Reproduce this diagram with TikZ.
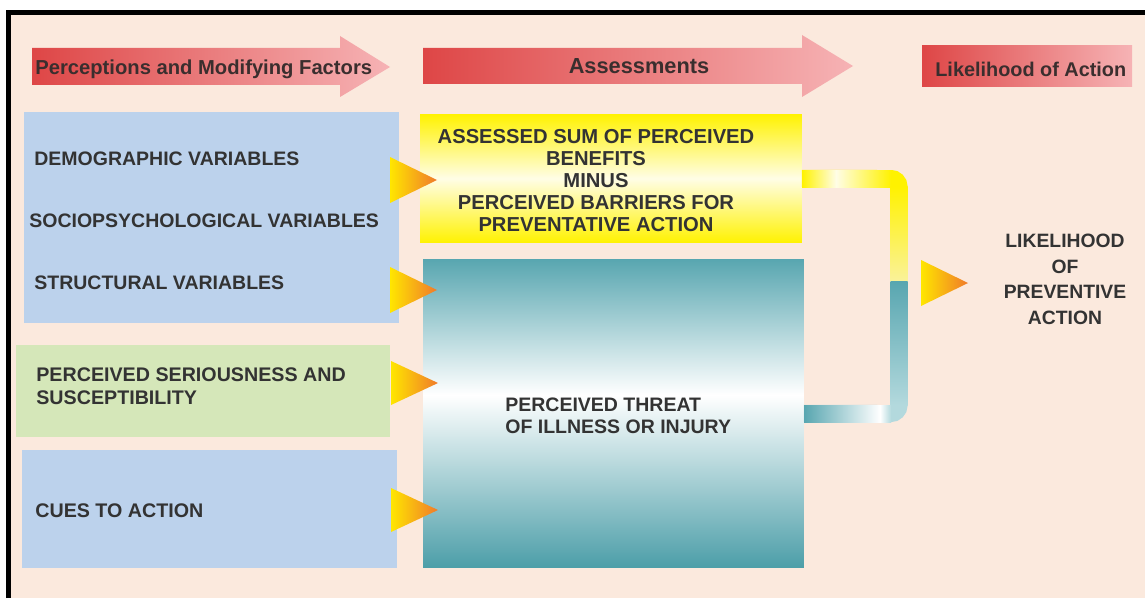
\documentclass[tikz,border=0pt]{standalone}
\usepackage{fontspec}
\setmainfont{Liberation Sans}
\definecolor{peach}{HTML}{FBE9DD}
\definecolor{bluebx}{HTML}{BCD2EC}
\definecolor{greenbx}{HTML}{D5E7B9}
\definecolor{yel}{HTML}{FFF200}
\definecolor{yelL}{HTML}{FAF29A}
\definecolor{paleyel}{HTML}{FFFDE6}
\definecolor{tealT}{HTML}{58A6B0}
\definecolor{tealB}{HTML}{4C9EA8}
\definecolor{tealL}{HTML}{B3D9DD}
\definecolor{hred}{HTML}{DE4646}
\definecolor{hpink}{HTML}{F6B3B5}
\definecolor{triY}{HTML}{FFE600}
\definecolor{triO}{HTML}{F07A2A}
\definecolor{txt}{HTML}{333333}
\definecolor{hdrtxt}{HTML}{3A2E2E}
\pgfdeclareverticalshading{tealsh}{100bp}{color(0bp)=(tealB); color(25bp)=(tealB); color(53bp)=(white); color(75bp)=(tealT); color(100bp)=(tealT)}
\begin{document}
\begin{tikzpicture}[x=0.02cm,y=-0.02cm,
  box/.style={anchor=north west, inner sep=0, outer sep=0, draw=none},
  lbl/.style={text=txt, font=\fontsize{11.2}{12.9}\selectfont\bfseries, inner sep=0},
  hdr/.style={text=hdrtxt, inner sep=0},
  tri/.style={left color=triY, right color=triO},
  hshade/.style={left color=hred, right color=hpink},
  pipe/.style={line width=0.34cm, rounded corners=0.16cm}]
\useasboundingbox (0,0) rectangle (1145,598);
\fill[white] (0,0) rectangle (1145,598);
\fill[peach] (8.5,12.5) rectangle (1145,598);
\draw[line width=0.1cm] (8.5,598) -- (8.5,12.5) -- (1145,12.5);

% header arrows
\shade[hshade] (32,48) -- (340,48) -- (340,36) -- (390,67) -- (340,97) -- (340,85) -- (32,85) -- cycle;
\shade[hshade] (423,48) -- (802,48) -- (802,35) -- (853,66) -- (802,97) -- (802,84) -- (423,84) -- cycle;
\shade[hshade] (922,46) rectangle (1132,87);
\node[hdr, anchor=base west, font=\fontsize{11.5}{13}\selectfont\bfseries] (h1) at (35,74) {Perceptions and Modifying Factors};
\node[hdr, anchor=base, font=\fontsize{12.4}{14}\selectfont\bfseries] (h2) at (639,73) {Assessments};
\node[hdr, anchor=base west, font=\fontsize{11.3}{13}\selectfont\bfseries] (h3) at (935,77) {Likelihood of Action};

% boxes
\node[box, fill=bluebx, minimum width=7.5cm, minimum height=4.22cm] (b1) at (24,112) {};
\node[box, fill=greenbx, minimum width=7.48cm, minimum height=1.84cm] (gr) at (16,345) {};
\node[box, fill=bluebx, minimum width=7.5cm, minimum height=2.36cm] (b2) at (22,450) {};
\node[box, top color=yel, bottom color=yel, middle color=paleyel, minimum width=7.64cm, minimum height=2.58cm] (yb) at (420,114) {};
\node[box, shade, shading=tealsh, minimum width=7.62cm, minimum height=6.18cm] (tb) at (423,259) {};

% texts
\node[lbl, anchor=base west, font=\fontsize{11.1}{12.9}\selectfont\bfseries] (t1) at (34,165) {DEMOGRAPHIC VARIABLES};
\node[lbl, anchor=base west, font=\fontsize{11.1}{12.9}\selectfont\bfseries] (t2) at (29,227) {SOCIOPSYCHOLOGICAL VARIABLES};
\node[lbl, anchor=base west, font=\fontsize{11.1}{12.9}\selectfont\bfseries] (t3) at (34,289) {STRUCTURAL VARIABLES};
\node[lbl, anchor=west, align=left, font=\fontsize{11.2}{12.75}\selectfont\bfseries] (t4) at (36,386.3) {PERCEIVED SERIOUSNESS AND\\SUSCEPTIBILITY};
\node[lbl, anchor=base west] (t5) at (35,517) {CUES TO ACTION};
\node[lbl, align=center, font=\fontsize{11.5}{12.4}\selectfont\bfseries] (t6) at (596,180.5) {ASSESSED SUM OF PERCEIVED\\BENEFITS\\MINUS\\PERCEIVED BARRIERS FOR\\PREVENTATIVE ACTION};
\node[lbl, anchor=west, align=left, font=\fontsize{11.1}{12.5}\selectfont\bfseries] (t7) at (505,416) {PERCEIVED THREAT\\OF ILLNESS OR INJURY};
\node[lbl, align=center, font=\fontsize{11}{14.55}\selectfont\bfseries] (t8) at (1065,279.5) {LIKELIHOOD\\OF\\PREVENTIVE\\ACTION};

% small triangles
\shade[tri] (390,157) -- (437,180) -- (390,203) -- cycle;
\shade[tri] (390,267) -- (437,290) -- (390,313) -- cycle;
\shade[tri] (391,361) -- (438,383) -- (391,405) -- cycle;
\shade[tri] (391,488) -- (438,510) -- (391,532) -- cycle;
\shade[tri] (921,260) -- (968,283) -- (921,306) -- cycle;

% connector bracket
\draw[pipe, yel] (yb.east) -- (899,178.5) -- (899,281);
\draw[pipe, tealL] (899,281) -- (899,413.5) -- (tb.east);
\shade[left color=yel, right color=paleyel] (802,170) rectangle (836,187);
\shade[left color=paleyel, right color=yel] (836,170) rectangle (891,187);
\shade[top color=yel, bottom color=yelL] (890.5,186.5) rectangle (907.5,281);
\shade[top color=tealT, bottom color=tealL] (890.5,281) rectangle (907.5,405);
\shade[left color=tealT, right color=white] (804,405) rectangle (880,422);
\shade[left color=white, right color=tealL] (880,405) rectangle (891,422);
\end{tikzpicture}
\end{document}
